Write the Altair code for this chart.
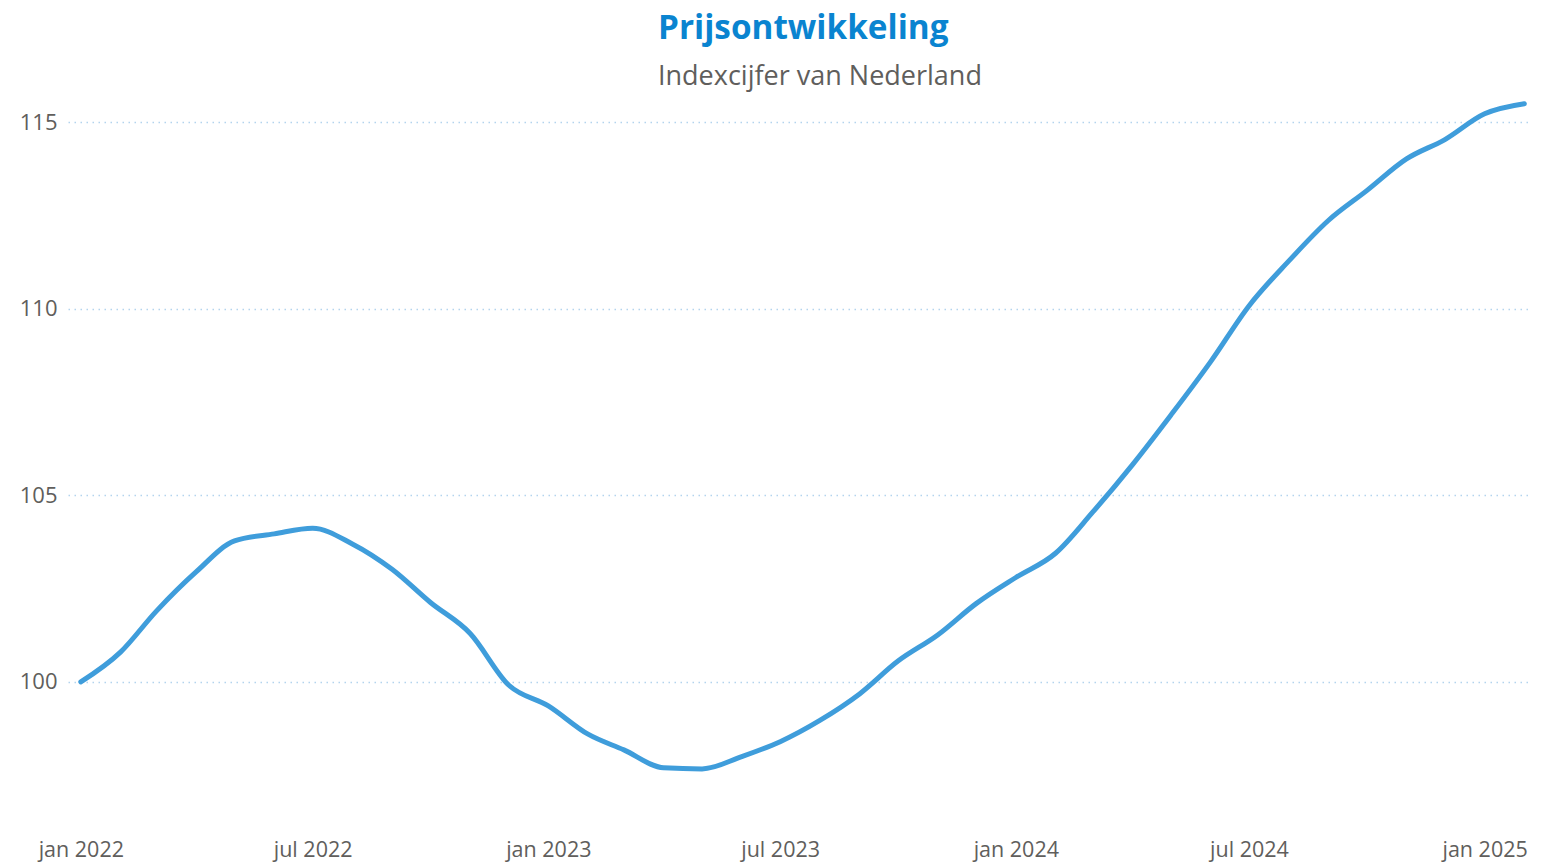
import altair as alt
import pandas as pd

months = [
    "2022-01-01", "2022-02-01", "2022-03-01", "2022-04-01", "2022-05-01", "2022-06-01",
    "2022-07-01", "2022-08-01", "2022-09-01", "2022-10-01", "2022-11-01", "2022-12-01",
    "2023-01-01", "2023-02-01", "2023-03-01", "2023-04-01", "2023-05-01", "2023-06-01",
    "2023-07-01", "2023-08-01", "2023-09-01", "2023-10-01", "2023-11-01", "2023-12-01",
    "2024-01-01", "2024-02-01", "2024-03-01", "2024-04-01", "2024-05-01", "2024-06-01",
    "2024-07-01", "2024-08-01", "2024-09-01", "2024-10-01", "2024-11-01", "2024-12-01",
    "2025-01-01", "2025-02-01",
]
index_values = [
    100.0, 100.8, 101.9, 102.95, 103.78, 103.97,
    104.12, 103.7, 103.02, 102.13, 101.3, 99.92,
    99.36, 98.6, 98.18, 97.7, 97.67, 98.0,
    98.4, 98.97, 99.68, 100.56, 101.26, 102.1,
    102.8, 103.45, 104.55, 105.82, 107.15, 108.58,
    110.08, 111.28, 112.37, 113.17, 114.02, 114.54,
    115.23, 115.5,
]
tick_dates = ["2022-01-01", "2022-07-01", "2023-01-01", "2023-07-01",
              "2024-01-01", "2024-07-01", "2025-01-01"]
y_ticks = [100, 105, 110, 115]

df = pd.DataFrame({"maand": months, "index": index_values})


def dt(s):
    y, m, d = (int(p) for p in s.split("-"))
    return alt.DateTime(year=y, month=m, date=d, utc=True)


FONT = "Open Sans"
LABEL_COLOR = "#605E5C"

chart = (
    alt.Chart(df)
    .mark_line(color="#3F9DDB", strokeWidth=5, interpolate="monotone", strokeCap="round")
    .encode(
        x=alt.X(
            "maand:T",
            title=None,
            scale=alt.Scale(type="utc", domain=[dt("2021-12-22"), dt("2025-02-07")]),
            axis=alt.Axis(
                values=[dt(s) for s in tick_dates],
                labelExpr="lower(utcFormat(datum.value, '%b %Y'))",
                grid=False,
                domain=False,
                ticks=False,
                labelFont=FONT,
                labelFontSize=21.5,
                labelColor=LABEL_COLOR,
                labelPadding=19,
                labelFlush=False,
            ),
        ),
        y=alt.Y(
            "index:Q",
            title=None,
            scale=alt.Scale(domain=[96.3, 115.6], nice=False, zero=False),
            axis=alt.Axis(
                values=y_ticks,
                grid=True,
                gridColor="#B3D4EE",
                gridDash=[1.5, 4.5],
                gridWidth=1.3,
                domain=False,
                ticks=False,
                labelFont=FONT,
                labelFontSize=22,
                labelColor=LABEL_COLOR,
                labelPadding=11,
            ),
        ),
    )
    .properties(
        width=1464,
        height=720,
        padding={"left": 60, "top": 92, "right": 3, "bottom": 42},
        autosize=alt.AutoSizeParams(type="none"),
        title=alt.TitleParams(
            text="Prijsontwikkeling",
            subtitle="Indexcijfer van Nederland",
            anchor="start",
            frame="group",
            dx=590,
            font=FONT,
            fontSize=33.3,
            fontWeight="bold",
            color="#0A84D0",
            subtitleFont=FONT,
            subtitleFontSize=27,
            subtitleColor=LABEL_COLOR,
            subtitlePadding=17,
            offset=3,
        ),
    )
    .configure_view(stroke=None)
)

chart.save("out.html", embed_options={"renderer": "svg", "actions": False})
